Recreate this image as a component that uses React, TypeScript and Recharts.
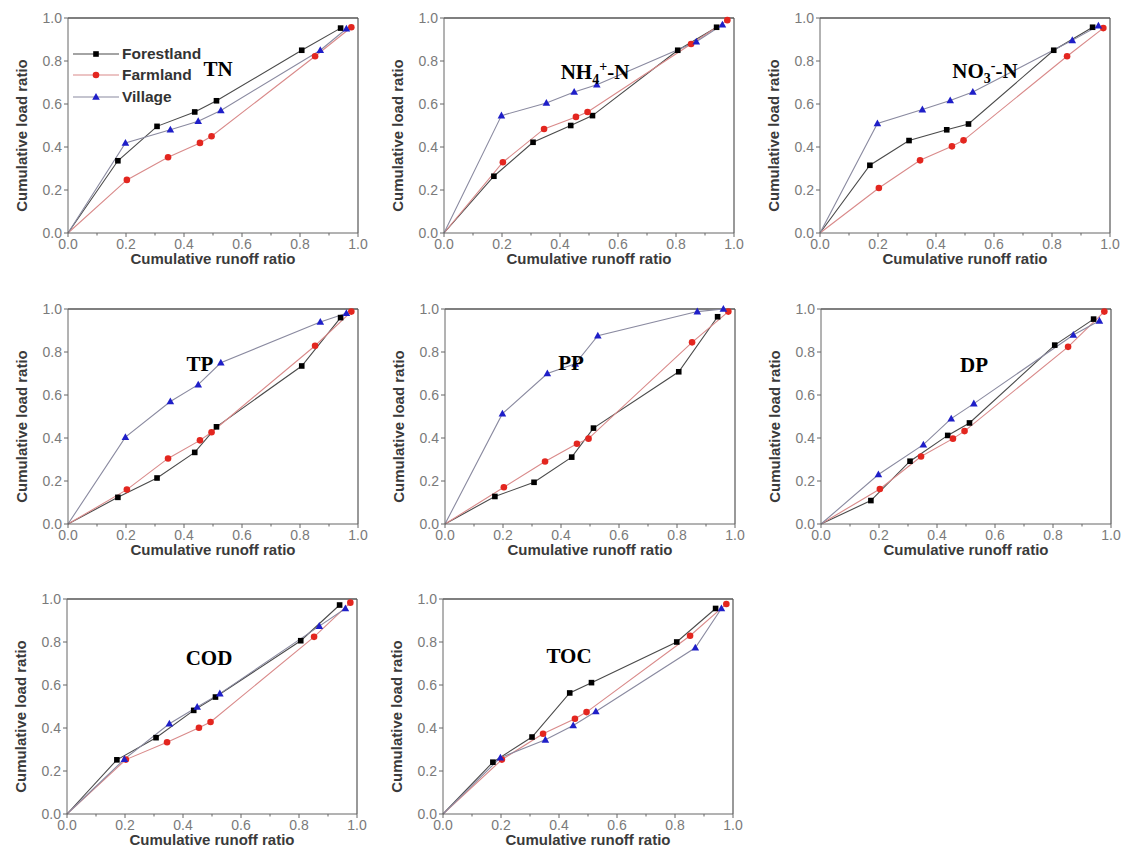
import React from "react";
import {
  LineChart,
  Line,
  XAxis,
  YAxis,
  CartesianGrid,
  ReferenceLine,
  Legend,
} from "recharts";

// ── cumulative runoff ratio (x) per land use ─────────────────────
const FOREST_X = [0, 0.172, 0.307, 0.437, 0.512, 0.806, 0.94];
const FARM_X = [0, 0.203, 0.345, 0.455, 0.495, 0.852, 0.977];
const VILLAGE_X = [0, 0.198, 0.353, 0.449, 0.527, 0.87, 0.96];

// ── cumulative load ratio (y) per pollutant ──────────────────────
const TN_FOREST = [0, 0.336, 0.496, 0.563, 0.615, 0.85, 0.953];
const TN_FARM = [0, 0.247, 0.352, 0.419, 0.45, 0.822, 0.957];
const TN_VILLAGE = [0, 0.419, 0.48, 0.52, 0.57, 0.85, 0.95];

const NH4_FOREST = [0, 0.264, 0.422, 0.5, 0.546, 0.85, 0.957];
const NH4_FARM = [0, 0.329, 0.484, 0.54, 0.563, 0.879, 0.99];
const NH4_VILLAGE = [0, 0.546, 0.605, 0.656, 0.69, 0.89, 0.969];

const NO3_FOREST = [0, 0.315, 0.43, 0.48, 0.507, 0.85, 0.957];
const NO3_FARM = [0, 0.209, 0.338, 0.403, 0.431, 0.822, 0.953];
const NO3_VILLAGE = [0, 0.509, 0.574, 0.616, 0.656, 0.896, 0.964];

const TP_FOREST = [0, 0.124, 0.214, 0.333, 0.452, 0.735, 0.96];
const TP_FARM = [0, 0.16, 0.305, 0.389, 0.427, 0.829, 0.988];
const TP_VILLAGE = [0, 0.404, 0.57, 0.648, 0.75, 0.94, 0.98];

const PP_FOREST = [0, 0.128, 0.194, 0.311, 0.446, 0.708, 0.964];
const PP_FARM = [0, 0.171, 0.291, 0.373, 0.397, 0.845, 0.988];
const PP_VILLAGE = [0, 0.513, 0.7, 0.745, 0.876, 0.988, 1.0];

const DP_FOREST = [0, 0.109, 0.292, 0.412, 0.47, 0.832, 0.953];
const DP_FARM = [0, 0.163, 0.314, 0.397, 0.432, 0.824, 0.988];
const DP_VILLAGE = [0, 0.23, 0.369, 0.49, 0.56, 0.879, 0.945];

const COD_FOREST = [0, 0.252, 0.355, 0.482, 0.544, 0.806, 0.972];
const COD_FARM = [0, 0.253, 0.334, 0.401, 0.428, 0.824, 0.983];
const COD_VILLAGE = [0, 0.255, 0.42, 0.498, 0.56, 0.874, 0.956];

const TOC_FOREST = [0, 0.241, 0.358, 0.563, 0.611, 0.8, 0.956];
const TOC_FARM = [0, 0.253, 0.373, 0.443, 0.474, 0.829, 0.977];
const TOC_VILLAGE = [0, 0.262, 0.345, 0.412, 0.477, 0.773, 0.956];

// major ticks every 0.2, minor every 0.1
const MAJOR_TICKS = [0, 0.2, 0.4, 0.6, 0.8, 1.0];
const ALL_TICKS = [0, 0.1, 0.2, 0.3, 0.4, 0.5, 0.6, 0.7, 0.8, 0.9, 1.0];

const SERIES = [
  { name: "Forestland", shape: "square", color: "#000000", line: "#4a4a4a" },
  { name: "Farmland", shape: "circle", color: "#e3261f", line: "#d98a8a" },
  { name: "Village", shape: "triangle", color: "#1f1fc8", line: "#8a8aa0" },
];

const SANS = "'Liberation Sans', Arial, sans-serif";
const SERIF = "'Liberation Serif', 'Times New Roman', serif";
const SUB = { fontSize: 14, lineHeight: 0 };

// panel layout: plot-area left/top in page px, title center
const PANELS = [
  { id: "tn", title: <>TN</>, f: TN_FOREST, fa: TN_FARM, v: TN_VILLAGE, left: 68, top: 18, tx: 218, ty: 69 },
  {
    id: "nh4",
    title: <>NH<sub style={SUB}>4</sub><sup style={SUB}>+</sup>-N</>,
    f: NH4_FOREST, fa: NH4_FARM, v: NH4_VILLAGE, left: 444, top: 18, tx: 595, ty: 72,
  },
  {
    id: "no3",
    title: <>NO<sub style={SUB}>3</sub><sup style={SUB}>-</sup>-N</>,
    f: NO3_FOREST, fa: NO3_FARM, v: NO3_VILLAGE, left: 820, top: 18, tx: 985, ty: 71,
  },
  { id: "tp", title: <>TP</>, f: TP_FOREST, fa: TP_FARM, v: TP_VILLAGE, left: 68, top: 309, tx: 200, ty: 364 },
  { id: "pp", title: <>PP</>, f: PP_FOREST, fa: PP_FARM, v: PP_VILLAGE, left: 445, top: 309, tx: 571, ty: 363 },
  { id: "dp", title: <>DP</>, f: DP_FOREST, fa: DP_FARM, v: DP_VILLAGE, left: 821, top: 309, tx: 974, ty: 365 },
  { id: "cod", title: <>COD</>, f: COD_FOREST, fa: COD_FARM, v: COD_VILLAGE, left: 67, top: 599, tx: 209, ty: 658 },
  { id: "toc", title: <>TOC</>, f: TOC_FOREST, fa: TOC_FARM, v: TOC_VILLAGE, left: 443, top: 599, tx: 569, ty: 656 },
];

const toPoints = (xs: number[], ys: number[]) => xs.map((x, i) => ({ x, y: ys[i] }));
const isMajor = (v: number) => Math.round(v * 10) % 2 === 0;

function Marker({ shape, color, cx, cy }: { shape: string; color: string; cx: number; cy: number }) {
  if (shape === "square") {
    return <rect x={cx - 2.8} y={cy - 2.8} width={5.6} height={5.6} fill={color} />;
  }
  if (shape === "circle") {
    return <circle cx={cx} cy={cy} r={3.3} fill={color} />;
  }
  return <path d={`M${cx},${cy - 4}L${cx + 3.8},${cy + 2.8}L${cx - 3.8},${cy + 2.8}Z`} fill={color} />;
}

const makeDot = (shape: string, color: string) => (props: any) => {
  const { cx, cy, index, payload } = props;
  if (cx == null || cy == null || payload.x === 0) return <g key={`e-${index}`} />;
  return (
    <g key={`d-${index}`}>
      <Marker shape={shape} color={color} cx={cx} cy={cy} />
    </g>
  );
};

// ticks: tickSize 4 + tickMargin 2 -> axis line sits 6px from label anchor
const XTick = (props: any) => {
  const { x, y, payload } = props;
  const v = payload.value;
  const axisY = y - 6;
  const major = isMajor(v);
  return (
    <g>
      <line x1={x} x2={x} y1={axisY} y2={axisY + (major ? 4 : 2.5)} stroke="#666" />
      {major && (
        <text x={x} y={y} dy="0.71em" textAnchor="middle" fill="#7a7a7a" fontSize={14} fontFamily={SANS}>
          {v.toFixed(1)}
        </text>
      )}
    </g>
  );
};

const YTick = (props: any) => {
  const { x, y, payload } = props;
  const v = payload.value;
  const axisX = x + 6;
  const major = isMajor(v);
  return (
    <g>
      <line x1={axisX} x2={axisX - (major ? 4 : 2.5)} y1={y} y2={y} stroke="#666" />
      {major && (
        <text x={x} y={y} dy="0.355em" textAnchor="end" fill="#7a7a7a" fontSize={14} fontFamily={SANS}>
          {v.toFixed(1)}
        </text>
      )}
    </g>
  );
};

function LegendBox() {
  return (
    <div style={{ fontFamily: SANS, fontWeight: 700, fontSize: 15.5, color: "#333" }}>
      {SERIES.map((s) => (
        <div key={s.name} style={{ display: "flex", alignItems: "center", height: 21.5 }}>
          <svg width={46} height={12}>
            <line x1={0} y1={6} x2={46} y2={6} stroke={s.line} strokeWidth={1.2} />
            <Marker shape={s.shape} color={s.color} cx={23} cy={6} />
          </svg>
          <span style={{ marginLeft: 3 }}>{s.name}</span>
        </div>
      ))}
    </div>
  );
}

const XTitle = (props: any) => {
  const vb = props.viewBox;
  return (
    <text
      x={vb.x + vb.width / 2}
      y={vb.y + 31}
      textAnchor="middle"
      fontFamily={SANS}
      fontWeight={700}
      fontSize={15}
      fill="#3a3a3a"
    >
      Cumulative runoff ratio
    </text>
  );
};

const YTitle = (props: any) => {
  const vb = props.viewBox;
  const cx = vb.x + 13;
  const cy = vb.y + vb.height / 2 + 10;
  return (
    <text
      x={cx}
      y={cy}
      transform={`rotate(-90 ${cx} ${cy})`}
      textAnchor="middle"
      dominantBaseline="central"
      fontFamily={SANS}
      fontWeight={700}
      fontSize={15}
      fill="#3a3a3a"
    >
      Cumulative load ratio
    </text>
  );
};

const gridX = (props: any) => {
  const s = props?.xAxis?.scale;
  return typeof s === "function" ? MAJOR_TICKS.map((t) => s(t)) : [];
};
const gridY = (props: any) => {
  const s = props?.yAxis?.scale;
  return typeof s === "function" ? MAJOR_TICKS.map((t) => s(t)) : [];
};

function Panel({ p, showLegend }: { p: (typeof PANELS)[number]; showLegend: boolean }) {
  const data = [toPoints(FOREST_X, p.f), toPoints(FARM_X, p.fa), toPoints(VILLAGE_X, p.v)];
  const chartLeft = p.left - 60;
  const chartTop = p.top - 10;
  return (
    <div style={{ position: "absolute", left: chartLeft, top: chartTop }}>
      <LineChart width={360} height={270} margin={{ top: 10, right: 10, bottom: 0, left: 0 }}>
        <CartesianGrid
          stroke="#e8e8e8"
          verticalCoordinatesGenerator={gridX}
          horizontalCoordinatesGenerator={gridY}
        />
        <XAxis
          type="number"
          dataKey="x"
          domain={[0, 1]}
          ticks={ALL_TICKS}
          height={45}
          tick={XTick}
          axisLine={{ stroke: "#666" }}
          tickLine={false}
          tickSize={4}
          tickMargin={2}
          label={XTitle}
        />
        <YAxis
          type="number"
          domain={[0, 1]}
          ticks={ALL_TICKS}
          width={60}
          tick={YTick}
          axisLine={{ stroke: "#666" }}
          tickLine={false}
          tickSize={4}
          tickMargin={2}
          label={YTitle}
        />
        <ReferenceLine y={1} stroke="#555" strokeWidth={1.5} />
        <ReferenceLine x={1} stroke="#555" strokeWidth={1.2} />
        {SERIES.map((s, i) => (
          <Line
            key={s.name}
            data={data[i]}
            dataKey="y"
            name={s.name}
            type="linear"
            stroke={s.line}
            strokeWidth={1.1}
            dot={makeDot(s.shape, s.color)}
            activeDot={false}
            isAnimationActive={false}
          />
        ))}
        {showLegend && (
          <Legend
            layout="vertical"
            align="center"
            verticalAlign="middle"
            content={() => <LegendBox />}
            wrapperStyle={{ left: 65, top: 35, width: 170, height: 66 }}
          />
        )}
      </LineChart>
      <div
        style={{
          position: "absolute",
          left: p.tx - chartLeft,
          top: p.ty - chartTop - 11,
          transform: "translateX(-50%)",
          fontFamily: SERIF,
          fontWeight: 700,
          fontSize: 21,
          lineHeight: "22px",
          color: "#000",
          whiteSpace: "nowrap",
        }}
      >
        {p.title}
      </div>
    </div>
  );
}

export default function App() {
  return (
    <div style={{ position: "absolute", left: 0, top: 0, width: 1125, height: 855, background: "#fff" }}>
      {PANELS.map((p, i) => (
        <Panel key={p.id} p={p} showLegend={i === 0} />
      ))}
    </div>
  );
}
